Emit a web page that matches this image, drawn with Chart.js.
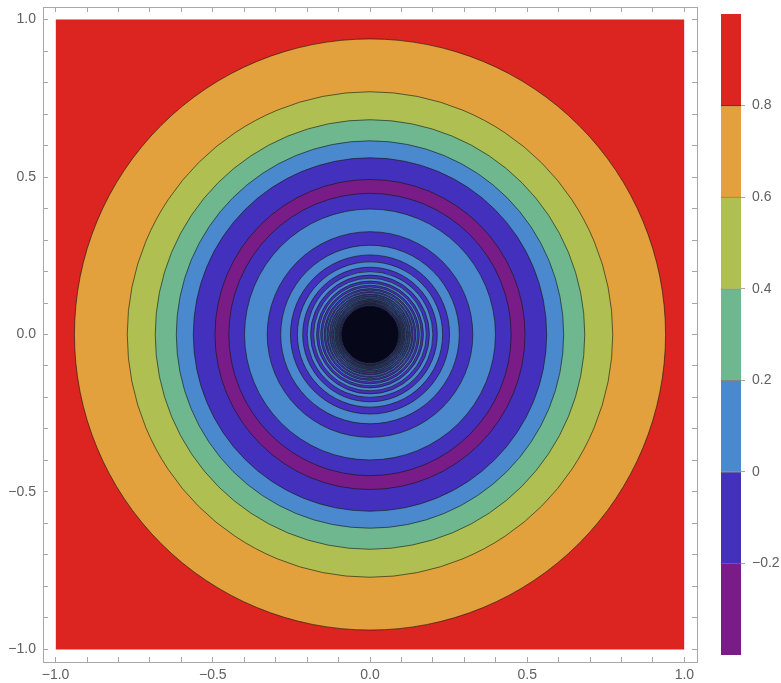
<!DOCTYPE html>
<html>
<head>
<meta charset="utf-8">
<script src="https://cdn.jsdelivr.net/npm/chart.js@4/dist/chart.umd.min.js"></script>
<style>
  html, body { margin: 0; padding: 0; background: #ffffff; }
  #wrap { position: relative; width: 781px; height: 683px; }
  #plot { position: absolute; left: 0; top: 0; }
  #bar { position: absolute; left: 705px; top: 0; }
</style>
</head>
<body>
<div id="wrap">
  <canvas id="plot" width="705" height="683"></canvas>
  <canvas id="bar" width="76" height="683"></canvas>
</div>
<script>
// Contour levels shared by the plot and the colour legend
const levels = [-0.4, -0.2, 0, 0.2, 0.4, 0.6, 0.8, 1.0];

// Square domain of the plot
const domainX = [-1, 1];
const domainY = [-1, 1];
const centre = [0, 0];

// Outer radius of each circular band, from the outside in
const ringRadii = [
  0.940, 0.772, 0.683, 0.616, 0.562, 0.493, 0.449, 0.399, 0.327, 0.284,
  0.253, 0.231, 0.214, 0.200, 0.189, 0.179, 0.170, 0.163, 0.157, 0.151,
  0.146, 0.141, 0.137, 0.133, 0.129, 0.126, 0.123, 0.120, 0.117, 0.115,
  0.112, 0.110, 0.108, 0.106, 0.104, 0.102, 0.100, 0.098, 0.097, 0.095,
  0.094, 0.092
];
// Level interval (index into levels) that each band belongs to
const ringBand = [
  5, 4, 3, 2, 1, 0, 1, 2, 1, 2,
  1, 2, 1, 2, 1, 2, 1, 2, 1, 2,
  1, 2, 1, 2, 1, 2, 1, 2, 1, 2,
  1, 2, 1, 2, 1, 2, 1, 2, 1, 2,
  1, 2
];
// Innermost region where the contour lines run together
const coreRadius = 0.090;

// Axis ticks
const axisStep = 0.1;
const labelStep = 0.5;

// Styling
const palette = ['#7a1c87', '#4331bd', '#4a89ce', '#6eb78f', '#b0bf51', '#e2a13c', '#dc2421'];
const lineColor = 'rgba(20,20,10,0.6)';
const coreColor = '#07071a';
const frameColor = '#a8a8a8';
const textColor = '#606060';
const font = { family: "'Liberation Sans', Arial, sans-serif", size: 14 };

function fmt(v) {
  const s = Math.abs(v).toFixed(1);
  return v < -1e-9 ? '\u2212' + s : s;
}

function pxRadius(chart, r) {
  const s = chart.scales.x;
  return Math.abs(s.getPixelForValue(r) - s.getPixelForValue(centre[0]));
}

const datasets = [];
// Region above the highest contour level fills the whole domain
datasets.push({
  type: 'line',
  data: [{ x: domainX[0], y: domainY[1] }, { x: domainX[1], y: domainY[1] }],
  fill: { value: domainY[0] },
  backgroundColor: palette[palette.length - 1],
  borderWidth: 0,
  pointRadius: 0,
  order: 1000
});
ringRadii.forEach((r, i) => {
  datasets.push({
    type: 'scatter',
    data: [{ x: centre[0], y: centre[1] }],
    pointRadius: ctx => pxRadius(ctx.chart, r),
    hoverRadius: ctx => pxRadius(ctx.chart, r),
    pointBackgroundColor: palette[ringBand[i]],
    pointBorderColor: lineColor,
    pointBorderWidth: 1,
    order: ringRadii.length - i + 1
  });
});
datasets.push({
  type: 'scatter',
  data: [{ x: centre[0], y: centre[1] }],
  pointRadius: ctx => pxRadius(ctx.chart, coreRadius),
  hoverRadius: ctx => pxRadius(ctx.chart, coreRadius),
  pointBackgroundColor: coreColor,
  pointBorderColor: coreColor,
  pointBorderWidth: 1,
  order: 0
});

const pad = 0.04 * (domainX[1] - domainX[0]) / 2;

function frameAxis(position, showLabels, size) {
  const horizontal = position === 'top' || position === 'bottom';
  const dom = horizontal ? domainX : domainY;
  return {
    type: 'linear',
    position: position,
    min: dom[0] - pad,
    max: dom[1] + pad,
    ticks: {
      stepSize: axisStep,
      includeBounds: false,
      autoSkip: false,
      maxRotation: 0,
      color: textColor,
      font: font,
      padding: horizontal ? 10 : 12,
      callback: v => {
        if (!showLabels) return '';
        const q = v / labelStep;
        return Math.abs(q - Math.round(q)) < 1e-6 ? fmt(v) : '';
      }
    },
    grid: {
      drawOnChartArea: false,
      drawTicks: true,
      tickLength: -5,
      tickColor: frameColor,
      tickWidth: 1
    },
    border: { display: true, color: frameColor, width: 1 },
    afterFit: s => {
      if (horizontal) s.height = size; else s.width = size;
      s.paddingTop = 0; s.paddingBottom = 0; s.paddingLeft = 0; s.paddingRight = 0;
    }
  };
}

new Chart(document.getElementById('plot'), {
  type: 'scatter',
  data: { datasets: datasets },
  options: {
    responsive: false,
    devicePixelRatio: 1,
    animation: false,
    events: [],
    layout: { padding: 0 },
    plugins: { legend: { display: false }, tooltip: { enabled: false } },
    scales: {
      x: frameAxis('bottom', true, 21),
      x2: frameAxis('top', false, 7),
      y: frameAxis('left', true, 43),
      y2: frameAxis('right', false, 8)
    }
  }
});

// Colour legend: one floating bar per level interval
const barSets = palette.map((c, i) => ({
  data: [[levels[i], levels[i + 1]]],
  backgroundColor: c,
  borderColor: 'rgba(0,0,0,0.45)',
  borderWidth: { top: i < palette.length - 1 ? 1 : 0, bottom: 0, left: 0, right: 0 },
  borderSkipped: false,
  barPercentage: 1,
  categoryPercentage: 1,
  grouped: false
}));

new Chart(document.getElementById('bar'), {
  type: 'bar',
  data: { labels: [''], datasets: barSets },
  options: {
    responsive: false,
    devicePixelRatio: 1,
    animation: false,
    events: [],
    layout: { padding: { left: 16, top: 14, bottom: 28, right: 0 } },
    plugins: { legend: { display: false }, tooltip: { enabled: false } },
    scales: {
      x: { display: false },
      y: {
        position: 'right',
        min: levels[0],
        max: levels[levels.length - 1],
        afterBuildTicks: s => {
          s.ticks = s.ticks.filter(t => t.value > levels[0] + 1e-6 && t.value < levels[levels.length - 1] - 1e-6);
        },
        ticks: {
          stepSize: levels[1] - levels[0],
          color: textColor,
          font: font,
          padding: 7,
          callback: v => Math.abs(v) < 1e-9 ? '0' : fmt(v)
        },
        grid: { drawOnChartArea: false, drawTicks: true, tickLength: 4, tickColor: frameColor },
        border: { display: false },
        afterFit: s => { s.width = 40; s.paddingTop = 0; s.paddingBottom = 0; }
      }
    }
  }
});
</script>
</body>
</html>
